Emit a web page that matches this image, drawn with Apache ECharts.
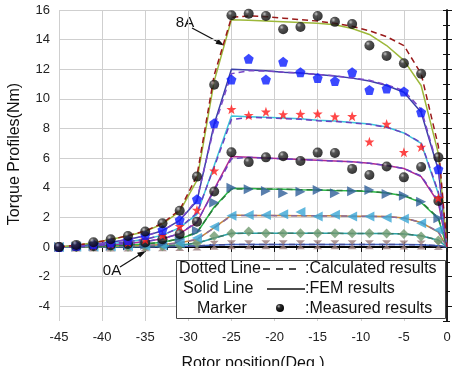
<!DOCTYPE html>
<html>
<head>
<meta charset="utf-8">
<script src="https://cdn.jsdelivr.net/npm/echarts@6/dist/echarts.min.js"></script>
<style>
  html, body { margin: 0; padding: 0; background: #fff; }
  #chart { width: 453px; height: 366px; }
</style>
</head>
<body>
<div id="chart"></div>
<script>
  // rotor angles (deg)
  const angleLine = [-45, -43, -41, -39, -37, -35, -33, -31, -29, -27, -25, -23, -21, -19, -17, -15, -13, -11, -9, -7, -5, -3, -1, 0];
  const angleMeas = [-45, -43, -41, -39, -37, -35, -33, -31, -29, -27, -25, -23, -21, -19, -17, -15, -13, -11, -9, -7, -5, -3, -1];

  // FEM results (solid lines), 8A .. 0A
  const fem8 = [0, 0.12, 0.28, 0.5, 0.75, 1.05, 1.55, 2.4, 4.5, 11.2, 15.35, 15.3, 15.25, 15.2, 15.15, 15.1, 15.0, 14.75, 14.35, 13.6, 12.6, 10.9, 6.3, 0];
  const fem7 = [0, 0.08, 0.18, 0.32, 0.5, 0.75, 1.1, 1.8, 3.1, 8.3, 12.0, 11.95, 11.9, 11.8, 11.75, 11.65, 11.55, 11.4, 11.2, 10.9, 10.45, 9.1, 5.2, 0];
  const fem6 = [0, 0.05, 0.12, 0.22, 0.35, 0.52, 0.8, 1.3, 2.2, 5.5, 8.85, 8.8, 8.75, 8.7, 8.65, 8.55, 8.5, 8.4, 8.3, 8.1, 7.7, 7.0, 3.6, 0];
  const fem5 = [0, 0.03, 0.08, 0.15, 0.24, 0.36, 0.55, 0.9, 1.65, 3.9, 6.1, 6.05, 6.0, 5.95, 5.9, 5.85, 5.8, 5.75, 5.65, 5.5, 5.3, 4.75, 3.0, 0];
  const fem4 = [0, 0.02, 0.04, 0.08, 0.13, 0.2, 0.32, 0.55, 0.95, 2.7, 3.95, 3.95, 3.92, 3.9, 3.87, 3.85, 3.82, 3.8, 3.75, 3.65, 3.45, 3.0, 1.9, 0];
  const fem3 = [0, 0.01, 0.02, 0.04, 0.07, 0.1, 0.16, 0.28, 0.5, 1.3, 2.15, 2.13, 2.12, 2.12, 2.1, 2.1, 2.1, 2.08, 2.07, 2.05, 1.95, 1.65, 1.0, 0];
  const fem2 = [0, 0, 0.01, 0.02, 0.03, 0.05, 0.08, 0.13, 0.25, 0.6, 0.92, 0.92, 0.92, 0.92, 0.92, 0.92, 0.92, 0.91, 0.9, 0.9, 0.88, 0.75, 0.45, 0];
  const fem1 = [0, 0, 0, 0, 0.01, 0.01, 0.02, 0.04, 0.07, 0.13, 0.17, 0.17, 0.17, 0.17, 0.17, 0.17, 0.17, 0.17, 0.17, 0.16, 0.16, 0.15, 0.08, 0];
  const fem0 = [0, 0, 0, 0, 0, 0, 0, 0, 0, 0, 0, 0, 0, 0, 0, 0, 0, 0, 0, 0, 0, 0, 0, 0];

  // calculated results (dashed lines)
  const calc8 = [0, 0.12, 0.28, 0.5, 0.76, 1.08, 1.6, 2.5, 4.8, 11.6, 15.5, 15.6, 15.55, 15.45, 15.35, 15.25, 15.1, 14.9, 14.6, 14.2, 13.6, 11.7, 6.8, 0];
  const calc7 = [0, 0.08, 0.18, 0.32, 0.5, 0.75, 1.1, 1.8, 3.2, 8.1, 11.7, 11.9, 11.88, 11.8, 11.73, 11.65, 11.55, 11.42, 11.25, 10.95, 10.55, 9.3, 5.3, 0];
  const calc6 = [0, 0.05, 0.12, 0.22, 0.35, 0.52, 0.8, 1.3, 2.3, 5.4, 8.6, 8.75, 8.72, 8.67, 8.62, 8.52, 8.47, 8.38, 8.28, 8.08, 7.7, 7.05, 3.7, 0];
  const calc5 = [0, 0.03, 0.08, 0.15, 0.24, 0.36, 0.55, 0.9, 1.7, 3.8, 5.95, 6.05, 6.0, 5.95, 5.9, 5.85, 5.8, 5.75, 5.65, 5.5, 5.3, 4.8, 3.1, 0];
  const calc4 = [0, 0.02, 0.04, 0.08, 0.13, 0.2, 0.32, 0.55, 1.0, 2.65, 3.9, 3.93, 3.91, 3.9, 3.87, 3.85, 3.82, 3.8, 3.75, 3.65, 3.47, 3.05, 1.95, 0];
  const calc3 = [0, 0.01, 0.02, 0.04, 0.07, 0.1, 0.16, 0.28, 0.52, 1.28, 2.12, 2.12, 2.12, 2.11, 2.1, 2.1, 2.09, 2.08, 2.07, 2.04, 1.95, 1.67, 1.02, 0];
  const calc2 = [0, 0, 0.01, 0.02, 0.03, 0.05, 0.08, 0.13, 0.26, 0.6, 0.91, 0.92, 0.92, 0.92, 0.92, 0.92, 0.92, 0.91, 0.9, 0.9, 0.88, 0.76, 0.46, 0];
  const calc1 = [0, 0, 0, 0, 0.01, 0.01, 0.02, 0.04, 0.07, 0.13, 0.17, 0.17, 0.17, 0.17, 0.17, 0.17, 0.17, 0.17, 0.17, 0.16, 0.16, 0.15, 0.08, 0];

  // measured results (markers)
  const meas8 = [0, 0.14, 0.32, 0.52, 0.74, 1.04, 1.6, 2.45, 4.75, 10.95, 15.65, 15.75, 15.6, 14.7, 14.85, 15.6, 15.2, 15.05, 13.6, 12.9, 12.4, 11.7, 6.05];
  const meas7 = [0, 0.08, 0.18, 0.3, 0.47, 0.8, 1.15, 1.82, 3.22, 8.35, 11.3, 12.7, 11.3, 12.5, 11.8, 11.4, 11.2, 11.8, 10.6, 10.7, 10.5, 9.1, 5.25];
  const meas6 = [0, 0.05, 0.1, 0.2, 0.32, 0.5, 0.8, 1.4, 2.5, 5.15, 9.3, 8.9, 9.13, 8.95, 8.97, 9.0, 8.8, 8.83, 7.1, 8.3, 6.4, 6.75, 3.3];
  const meas5 = [0, 0.03, 0.06, 0.12, 0.2, 0.3, 0.52, 0.88, 1.71, 3.74, 6.4, 5.73, 6.05, 6.13, 5.8, 6.37, 6.35, 5.27, 4.86, 5.43, 4.7, 5.4, 3.1];
  const meas4 = [0, 0.02, 0.04, 0.07, 0.1, 0.15, 0.25, 0.55, 1.1, 3.0, 4.0, 3.9, 3.78, 3.63, 3.72, 3.85, 3.63, 3.76, 3.85, 3.58, 3.45, 3.06, 1.94];
  const meas3 = [0, 0.01, 0.02, 0.03, 0.05, 0.07, 0.1, 0.25, 0.6, 1.37, 2.1, 2.16, 2.16, 2.2, 2.36, 2.05, 2.18, 2.05, 2.05, 1.98, 1.91, 1.6, 1.15];
  const meas2 = [0, 0, 0.01, 0.01, 0.02, 0.03, 0.05, 0.1, 0.25, 0.74, 0.92, 1.04, 0.92, 0.92, 0.92, 0.92, 0.92, 0.92, 0.92, 0.9, 0.88, 0.7, 0.43];
  const meas1 = [0, 0, 0, 0, 0, 0.01, 0.02, 0.03, 0.06, 0.12, 0.15, 0.15, 0.15, 0.15, 0.15, 0.15, 0.15, 0.15, 0.15, 0.15, 0.14, 0.14, 0.1];

  const yMajorTicks = [-4, -2, 0, 2, 4, 6, 8, 10, 12, 14, 16];
  const yMinorTicks = [-5, -3, -1, 1, 3, 5, 7, 9, 11, 13, 15];

  const FONT = "'Liberation Sans', Arial, sans-serif";

  const sphere = {
    type: 'radial', x: 0.35, y: 0.3, r: 0.75,
    colorStops: [{offset: 0, color: '#b8b8b8'}, {offset: 0.3, color: '#2a2a2a'}, {offset: 1, color: '#000'}]
  };
  const pentagon = 'path://M0,-10 L9.5,-3.1 L5.9,8.1 L-5.9,8.1 L-9.5,-3.1 Z';
  const star = 'path://M0,-10 L2.35,-3.24 L9.51,-3.09 L3.8,1.24 L5.88,8.09 L0,4 L-5.88,8.09 L-3.8,1.24 L-9.51,-3.09 L-2.35,-3.24 Z';
  const hourglass = 'path://M0,0 L10,0 L5,5 L10,10 L0,10 L5,5 Z';

  function zip(xs, ys) {
    return xs.map((x, i) => [x, ys[i]]);
  }

  function lineSeries(name, values, color, dashed) {
    return {
      name: name,
      type: 'line',
      data: zip(angleLine, values),
      showSymbol: false,
      symbol: 'none',
      silent: true,
      z: dashed ? 3 : 2,
      lineStyle: {color: color, width: 1.5, type: dashed ? [6, 4] : 'solid'}
    };
  }

  function markerSeries(name, values, symbol, color, size, rotate) {
    return {
      name: name,
      type: 'scatter',
      data: zip(angleMeas, values),
      symbol: symbol,
      symbolSize: size,
      symbolRotate: rotate || 0,
      silent: true,
      z: 5,
      itemStyle: {color: color}
    };
  }

  let chart = echarts.init(document.getElementById('chart'));
  chart.setOption({
    animation: false,
    backgroundColor: '#fff',
    textStyle: {fontFamily: FONT},
    grid: {left: 59, right: 6, top: 10, bottom: 45, containLabel: false, outerBoundsMode: 'none'},
    xAxis: [
      {
        type: 'value', min: -45, max: 0, interval: 5,
        name: 'Rotor position(Deg.)', nameLocation: 'middle', nameGap: 35,
        nameTextStyle: {fontSize: 16, color: '#111', fontFamily: FONT},
        axisLine: {lineStyle: {color: '#111', width: 1.5}},
        axisTick: {inside: true, length: 5, lineStyle: {color: '#111'}},
        minorTick: {show: true, splitNumber: 2, length: 3, lineStyle: {color: '#111'}},
        axisLabel: {fontSize: 13, color: '#222', margin: 10, fontFamily: FONT},
        splitLine: {show: true, lineStyle: {color: '#cfcfcf', width: 1}}
      },
      {
        type: 'value', position: 'top', min: -45, max: 0, interval: 5,
        axisLine: {show: true, lineStyle: {color: '#111', width: 1.5}},
        axisTick: {inside: true, length: 5, lineStyle: {color: '#111'}},
        minorTick: {show: true, splitNumber: 2, length: 3, lineStyle: {color: '#111'}},
        axisLabel: {show: false},
        splitLine: {show: false}
      }
    ],
    yAxis: [
      {
        type: 'value', min: -5, max: 16,
        axisLine: {show: true, lineStyle: {color: '#111', width: 1.5}},
        axisTick: {show: true, inside: true, length: 5, customValues: yMajorTicks, lineStyle: {color: '#111'}},
        axisLabel: {fontSize: 13, color: '#222', margin: 9, customValues: yMajorTicks, fontFamily: FONT},
        splitLine: {show: true, lineStyle: {color: '#cfcfcf', width: 1}}
      },
      {
        type: 'value', position: 'left', min: -5, max: 16,
        axisLine: {show: false},
        axisTick: {show: true, inside: true, length: 3, customValues: yMinorTicks, lineStyle: {color: '#111'}},
        axisLabel: {show: false},
        splitLine: {show: false}
      },
      {
        type: 'value', position: 'right', min: -5, max: 16, interval: 1,
        axisLine: {show: true, lineStyle: {color: '#111', width: 1.5}},
        axisTick: {show: true, inside: true, length: 4, lineStyle: {color: '#111'}},
        axisLabel: {show: false},
        splitLine: {show: false}
      }
    ],
    graphic: [
      {
        type: 'text', x: 15, y: 154, rotation: Math.PI / 2,
        style: {text: 'Torque Profiles(Nm)', font: '16px ' + FONT, fill: '#111', align: 'center', verticalAlign: 'middle'}
      },
      // 8A arrow
      {type: 'text', x: 185, y: 23, style: {text: '8A', font: '15px ' + FONT, fill: '#111', align: 'center', verticalAlign: 'middle'}},
      {type: 'line', shape: {x1: 192, y1: 28, x2: 222, y2: 44}, style: {stroke: '#111', lineWidth: 1.2}},
      {type: 'polygon', shape: {points: [[224, 45.5], [215.5, 43.8], [218.2, 38.8]]}, style: {fill: '#111'}},
      // 0A arrow
      {type: 'text', x: 112, y: 271, style: {text: '0A', font: '15px ' + FONT, fill: '#111', align: 'center', verticalAlign: 'middle'}},
      {type: 'line', shape: {x1: 120, y1: 267, x2: 144, y2: 252}, style: {stroke: '#111', lineWidth: 1.2}},
      {type: 'polygon', shape: {points: [[146, 251], [140, 257.5], [137, 252.7]]}, style: {fill: '#111'}},
      // legend box
      {type: 'rect', z: 100, shape: {x: 176.5, y: 260.5, width: 269, height: 58}, style: {fill: '#fff', stroke: '#444', lineWidth: 1}},
      {type: 'text', z: 101, x: 179, y: 269, style: {text: 'Dotted Line', font: '16px ' + FONT, fill: '#111', verticalAlign: 'middle'}},
      {type: 'line', z: 101, shape: {x1: 263, y1: 269, x2: 302, y2: 269}, style: {stroke: '#111', lineWidth: 1.3, lineDash: [7, 6]}},
      {type: 'text', z: 101, x: 305, y: 269, style: {text: ':Calculated results', font: '16px ' + FONT, fill: '#111', verticalAlign: 'middle'}},
      {type: 'text', z: 101, x: 183, y: 289, style: {text: 'Solid Line', font: '16px ' + FONT, fill: '#111', verticalAlign: 'middle'}},
      {type: 'line', z: 101, shape: {x1: 267, y1: 289, x2: 305, y2: 289}, style: {stroke: '#111', lineWidth: 1.3}},
      {type: 'text', z: 101, x: 305, y: 289, style: {text: ':FEM results', font: '16px ' + FONT, fill: '#111', verticalAlign: 'middle'}},
      {type: 'text', z: 101, x: 197, y: 309, style: {text: 'Marker', font: '16px ' + FONT, fill: '#111', verticalAlign: 'middle'}},
      {type: 'circle', z: 101, shape: {cx: 280, cy: 308, r: 4}, style: {fill: sphere}},
      {type: 'text', z: 101, x: 305, y: 309, style: {text: ':Measured results', font: '16px ' + FONT, fill: '#111', verticalAlign: 'middle'}}
    ],
    series: [
      lineSeries('0A FEM', fem0, '#000', false),
      lineSeries('1A FEM', fem1, '#3a62c4', false),
      lineSeries('1A Calc', calc1, '#444a90', true),
      lineSeries('2A FEM', fem2, '#2aa3a8', false),
      lineSeries('2A Calc', calc2, '#3a7a6a', true),
      lineSeries('3A FEM', fem3, '#c8873c', false),
      lineSeries('3A Calc', calc3, '#8a6a9a', true),
      lineSeries('4A FEM', fem4, '#2cba48', false),
      lineSeries('4A Calc', calc4, '#2a7a3a', true),
      lineSeries('5A FEM', fem5, '#b02a92', false),
      lineSeries('5A Calc', calc5, '#6a40c0', true),
      lineSeries('6A FEM', fem6, '#3cc4da', false),
      lineSeries('6A Calc', calc6, '#6a40c0', true),
      lineSeries('7A FEM', fem7, '#3a3fa8', false),
      lineSeries('7A Calc', calc7, '#7a48c8', true),
      lineSeries('8A FEM', fem8, '#9db83a', false),
      lineSeries('8A Calc', calc8, '#9a1a1a', true),
      markerSeries('1A', meas1, hourglass, '#9a7c7c', 9),
      markerSeries('2A', meas2, 'diamond', '#6f9a6f', 10),
      markerSeries('3A', meas3, 'triangle', '#3aa6d6', 10, 90),
      markerSeries('4A', meas4, 'triangle', '#2f5f98', 10, -90),
      markerSeries('5A', meas5, 'circle', sphere, 10),
      markerSeries('6A', meas6, star, '#ff1a1a', 10),
      markerSeries('7A', meas7, pentagon, '#0a1cff', 10),
      markerSeries('8A', meas8, 'circle', sphere, 10)
    ]
  });
</script>
</body>
</html>
